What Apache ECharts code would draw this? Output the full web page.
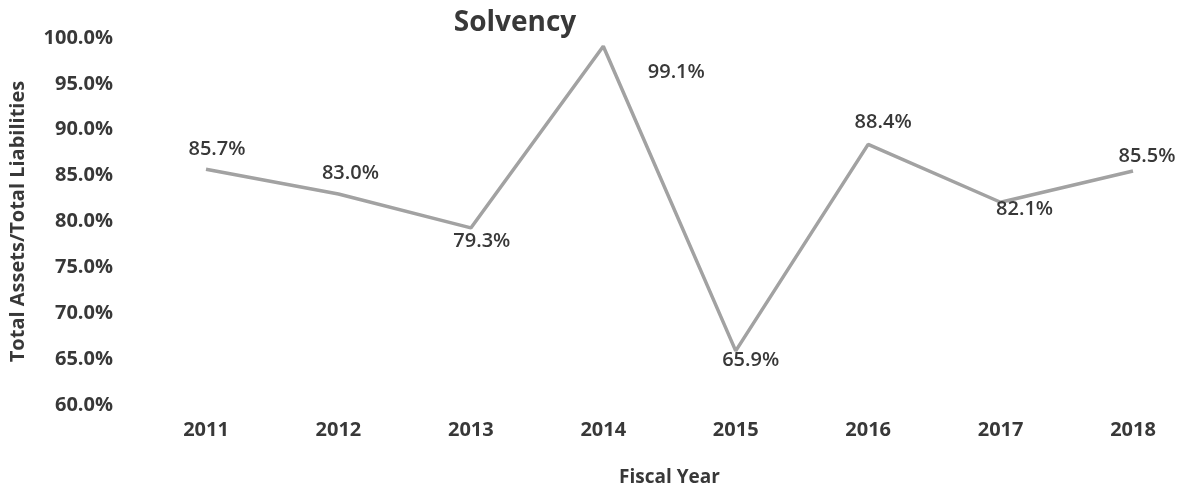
<!DOCTYPE html>
<html>
<head>
<meta charset="utf-8">
<script src="https://cdn.jsdelivr.net/npm/echarts@6/dist/echarts.min.js"></script>
<style>
  html, body { margin: 0; padding: 0; background: #fff; overflow: hidden; }
  #chart { width: 1183px; height: 492px; }
</style>
</head>
<body>
<div id="chart"></div>
<script>
// Solvency ratio by fiscal year (total assets / total liabilities, %)
const years = ['2011', '2012', '2013', '2014', '2015', '2016', '2017', '2018'];
const solvency = [85.7, 83.0, 79.3, 99.1, 65.9, 88.4, 82.1, 85.5];
// Label centre offset from each point, in pixels
const labelShift = [[11, -20], [12, -21], [11, 13], [73, 26], [15, 9], [15, -22], [24, 7], [14, -15]];

const FONT = '"Open Sans", Lato, sans-serif';
const TEXT = '#383838';

const chart = echarts.init(document.getElementById('chart'), null, { renderer: 'canvas' });

chart.setOption({
  backgroundColor: '#ffffff',
  animation: false,
  title: {
    text: 'Solvency',
    left: 510,
    textAlign: 'center',
    top: 4,
    textStyle: { fontFamily: FONT, fontSize: 28, fontWeight: 'bold', color: TEXT }
  },
  grid: { left: 205, right: 50, top: 38, bottom: 82, containLabel: false },
  xAxis: {
    type: 'category',
    data: years,
    boundaryGap: false,
    name: 'Fiscal Year',
    nameLocation: 'middle',
    nameGap: 63,
    nameTextStyle: { fontFamily: FONT, fontSize: 19, fontWeight: 'bold', color: TEXT },
    axisLine: { show: false },
    axisTick: { show: false },
    axisLabel: { margin: 15, fontFamily: FONT, fontSize: 20, fontWeight: 'bold', color: TEXT }
  },
  yAxis: {
    type: 'value',
    min: 60,
    max: 100,
    interval: 5,
    name: 'Total Assets/Total Liabilities',
    nameLocation: 'middle',
    nameGap: 178,
    nameTextStyle: { fontFamily: FONT, fontSize: 20, fontWeight: 'bold', color: TEXT },
    axisLine: { show: false },
    axisTick: { show: false },
    splitLine: { show: false },
    axisLabel: {
      margin: 93,
      fontFamily: FONT, fontSize: 20, fontWeight: 'bold', color: TEXT,
      formatter: v => v.toFixed(1) + '%'
    }
  },
  series: [{
    type: 'line',
    data: solvency.map((v, i) => ({
      value: v,
      label: { offset: labelShift[i] }
    })),
    showSymbol: true,
    symbol: 'circle',
    symbolSize: 0.1,
    itemStyle: { color: 'rgba(0,0,0,0)' },
    lineStyle: { color: '#a2a2a2', width: 3.5 },
    label: {
      show: true,
      position: 'inside',
      align: 'center',
      verticalAlign: 'middle',
      fontFamily: FONT, fontSize: 20, fontWeight: 600, color: TEXT,
      formatter: p => p.value.toFixed(1) + '%'
    }
  }]
});
</script>
</body>
</html>
